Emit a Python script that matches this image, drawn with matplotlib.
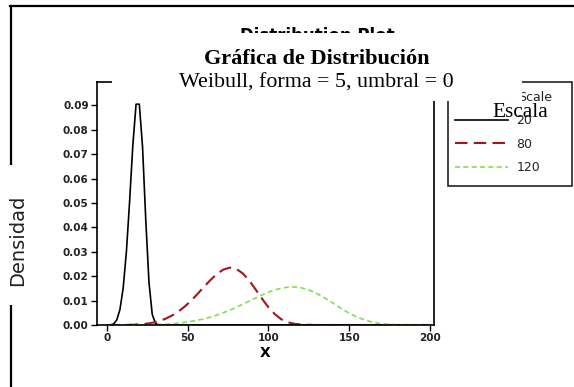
import matplotlib
matplotlib.use("Agg")
import matplotlib.pyplot as plt
from matplotlib.patches import Rectangle
from matplotlib.lines import Line2D

# density values (Weibull, shape 5)
x_20 = [0, 2, 4, 6, 8, 10, 12, 14, 16, 18, 20, 22, 24, 26, 28, 30, 32, 34, 200]
d_20 = [0, 0.00003, 0.0004, 0.002, 0.0063, 0.0151, 0.030, 0.0507, 0.0738, 0.0905,
        0.0905, 0.0731, 0.0431, 0.0174, 0.0044, 0.0006, 0.0001, 0, 0]

x_80 = [0, 8, 16, 24, 28, 32, 36, 40, 44, 48, 52, 56, 60, 64, 68, 72, 76, 80, 84,
        88, 92, 96, 100, 104, 108, 112, 116, 120, 128, 136, 200]
d_80 = [0, 0, 0.0001, 0.0005, 0.0009, 0.0016, 0.0025, 0.0038, 0.0054, 0.0075,
        0.0099, 0.0127, 0.0156, 0.0184, 0.0209, 0.0227, 0.0235, 0.0230, 0.0212,
        0.0183, 0.0146, 0.0108, 0.0072, 0.0044, 0.0023, 0.0011, 0.0005, 0.0002,
        0, 0, 0]

x_120 = [0, 12, 24, 30, 36, 42, 48, 54, 60, 66, 72, 78, 84, 90, 96, 102, 108, 114,
         120, 126, 132, 138, 144, 150, 156, 162, 168, 174, 180, 192, 200]
d_120 = [0, 0, 0.0001, 0.0002, 0.0003, 0.0006, 0.0011, 0.0017, 0.0025, 0.0036,
         0.0050, 0.0066, 0.0085, 0.0104, 0.0123, 0.0140, 0.0151, 0.0157, 0.0153,
         0.0141, 0.0122, 0.0098, 0.0072, 0.0048, 0.0029, 0.0016, 0.0007, 0.0003,
         0.0001, 0, 0]

scales = ["20", "80", "120"]
x_ticks = [0, 50, 100, 150, 200]
y_ticks = [0.00, 0.01, 0.02, 0.03, 0.04, 0.05, 0.06, 0.07, 0.08, 0.09]

W, H = 574, 387


def fx(px):
    return px / W


def fy(py):
    return 1 - py / H


fig = plt.figure(figsize=(W / 100, H / 100), dpi=100)
ax = fig.add_axes([fx(97), fy(325), (434 - 97) / W, (325 - 82) / H])

l1, = ax.plot(x_20, d_20, color="black", lw=1.2)
l2, = ax.plot(x_80, d_80, color="#a3161b", lw=1.5, dashes=(6, 3))
l3, = ax.plot(x_120, d_120, color="#80e050", lw=1.2, dashes=(3, 2))

ax.set_xlim(-6.2, 202.5)
ax.set_ylim(0, 0.0996)
ax.set_xticks(x_ticks)
ax.set_yticks(y_ticks)
ax.set_yticklabels(["%.2f" % v for v in y_ticks])
ax.tick_params(direction="out", length=4, width=1, labelsize=7.5, pad=2)
for lab in ax.get_xticklabels() + ax.get_yticklabels():
    lab.set_fontweight("bold")
    lab.set_color("#222222")
for s in ax.spines.values():
    s.set_linewidth(1.2)
ax.set_xlabel("X", fontsize=10, fontweight="bold", labelpad=2)

# legend box
fig.patches.append(Rectangle((fx(448), fy(186)), (572 - 448) / W, (186 - 82) / H,
                             transform=fig.transFigure, facecolor="none",
                             edgecolor="#222222", lw=1.2, zorder=3))
leg = fig.legend([l1, l2, l3], scales, loc="upper left",
                 bbox_to_anchor=(fx(455), fy(114)), frameon=False, fontsize=9,
                 handlelength=4.2, handletextpad=0.7, labelspacing=0.85,
                 borderpad=0, borderaxespad=0)
leg.set_zorder(4)
for t in leg.get_texts():
    t.set_color("#222222")
fig.text(fx(552), fy(97), "Scale", ha="right", va="center", fontsize=9,
         color="#222222", zorder=4)

# outer frame
fig.lines.append(Line2D([fx(10), fx(574)], [fy(6), fy(6)], transform=fig.transFigure,
                        color="black", lw=1.6, zorder=2))
fig.lines.append(Line2D([fx(11), fx(11)], [fy(6), fy(387)], transform=fig.transFigure,
                        color="black", lw=1.6, zorder=2))

fig.text(fx(317), fy(27), "Distribution Plot", ha="center", va="top",
         fontsize=12, fontweight="bold", zorder=4)

# white boxes with the translated text
fig.patches.append(Rectangle((fx(112), fy(101)), (522 - 112) / W, (101 - 33) / H,
                             transform=fig.transFigure, facecolor="white",
                             edgecolor="none", zorder=5))
fig.patches.append(Rectangle((fx(0), fy(305)), 35 / W, (305 - 165) / H,
                             transform=fig.transFigure, facecolor="white",
                             edgecolor="none", zorder=5))

serif = ["Liberation Serif", "DejaVu Serif"]
fig.text(fx(317), fy(64), "Gráfica de Distribución", ha="center", va="baseline",
         fontsize=16, fontweight="bold", family=serif, zorder=6)
fig.text(fx(316), fy(88), "Weibull, forma = 5, umbral = 0", ha="center",
         va="baseline", fontsize=15.8, family=serif, zorder=6)
fig.text(fx(520), fy(117), "Escala", ha="center", va="baseline",
         fontsize=15.4, family=serif, zorder=7)
fig.text(fx(18), fy(240), "Densidad", ha="center", va="center", rotation=90,
         fontsize=14, color="#222222", zorder=6)

fig.savefig("out.png", dpi=100)
